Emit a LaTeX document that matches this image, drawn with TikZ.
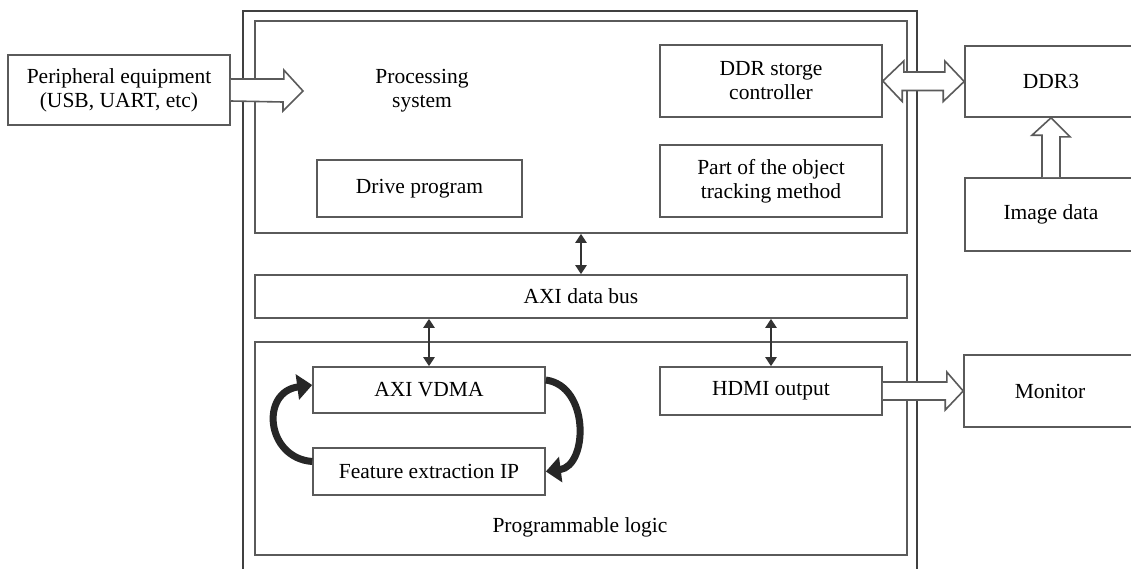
\documentclass[tikz,border=0pt]{standalone}
\usepackage{fontspec}
\setmainfont{Liberation Serif}
\usetikzlibrary{calc,arrows.meta}
\definecolor{edge}{HTML}{5A5A5A}
\definecolor{frame}{HTML}{404040}
\tikzset{
  box/.style={draw=edge, line width=1.6pt, fill=white, inner sep=0pt, align=center,
              font=\fontsize{21.5}{24}\selectfont},
  label/.style={inner sep=0pt, align=center, font=\fontsize{21.5}{24}\selectfont},
  hollow/.style={draw=edge, line width=1.6pt, fill=white, line join=miter},
  bus/.style={draw=black!80, line width=2.6pt,
              {Triangle[length=9pt,width=11pt]}-{Triangle[length=9pt,width=11pt]}},
  loop/.style={draw=black!85, line width=7pt, -{Triangle[length=15pt,width=25pt]}},
}
\begin{document}
\begin{tikzpicture}[x=1pt,y=-1pt]
\useasboundingbox (0,0) rectangle (1131,568);
\clip (0,0) rectangle (1131,568);

% outer system frame (runs past the lower edge)
\draw[draw=frame, line width=1.5pt] (243,620) -- (243,11) -- (917,11) -- (917,620);

% processing system
\node[box, minimum width=652pt, minimum height=212pt] (ps) at (581,127) {};
\node[label] (pslabel) at (422,91) {Processing\\system};
\node[box, minimum width=222pt, minimum height=72pt] (ddrc) at (771,81) {DDR storge\\controller};
\node[box, minimum width=205pt, minimum height=57pt] (drive) at (419.5,188.5) {Drive program};
\node[box, minimum width=222pt, minimum height=72pt] (track) at (771,181) {Part of the object\\tracking method};

% bus
\node[box, minimum width=652pt, minimum height=43pt] (axi) at (581,296.5) {AXI data bus};

% programmable logic
\node[box, minimum width=652pt, minimum height=213pt] (pl) at (581,448.5) {};
\node[label] (pllabel) at (580,527) {Programmable logic};
\node[box, minimum width=232pt, minimum height=46pt] (vdma) at (429,390) {AXI VDMA};
\node[box, minimum width=232pt, minimum height=47pt] (feat) at (429,471.5) {Feature extraction IP};
\node[box, minimum width=222pt, minimum height=48pt] (hdmi) at (771,391) {HDMI output};

% external blocks
\node[box, minimum width=222pt, minimum height=70pt] (per) at (119,90) {Peripheral equipment\\(USB, UART, etc)};
\node[box, minimum width=172pt, minimum height=71pt] (ddr3) at (1051,81.5) {DDR3};
\node[box, minimum width=172pt, minimum height=73pt] (img) at (1051,214.5) {Image data};
\node[box, minimum width=172pt, minimum height=72pt] (mon) at (1050,391) {Monitor};

% bus connections
\draw[bus] (ps.south -| axi.north) -- (axi.north);
\draw[bus] (axi.south -| vdma.north) -- (vdma.north);
\draw[bus] (axi.south -| hdmi.north) -- (hdmi.north);

% processing loop between VDMA and feature extraction
\draw[loop] ($(feat.west)+(0,-10)$) .. controls (266,458) and (260,392) .. ($(vdma.west)+(0,-5)$);
\draw[loop] ($(vdma.east)+(0,-10)$) .. controls (590,386) and (588,466) .. (feat.east);

% wide data-flow arrows
\coordinate (psin) at (303,91);
\draw[hollow] ($(per.east)+(0,-11)$) -- ++(53,0) -- ++(0,-9) -- (psin)
  -- ++(-20,20) -- ++(0,-9) -- ($(per.east)+(0,11)$);
\draw[hollow] (ddrc.east) -- ++(21,-20) -- ++(0,11) -- ++(41,0) -- ++(0,-11)
  -- (ddr3.west) -- ++(-21,20) -- ++(0,-11) -- ++(-41,0) -- ++(0,11) -- cycle;
\draw[hollow] ($(img.north)+(-9,0)$) -- ++(0,-42) -- ++(-10,0) -- (ddr3.south)
  -- ++(19,19) -- ++(-10,0) -- ($(img.north)+(9,0)$);
\draw[hollow] ($(hdmi.east)+(0,-9)$) -- ++(64,0) -- ++(0,-10) -- (mon.west)
  -- ++(-18,19) -- ++(0,-10) -- ($(hdmi.east)+(0,9)$);
\end{tikzpicture}
\end{document}
